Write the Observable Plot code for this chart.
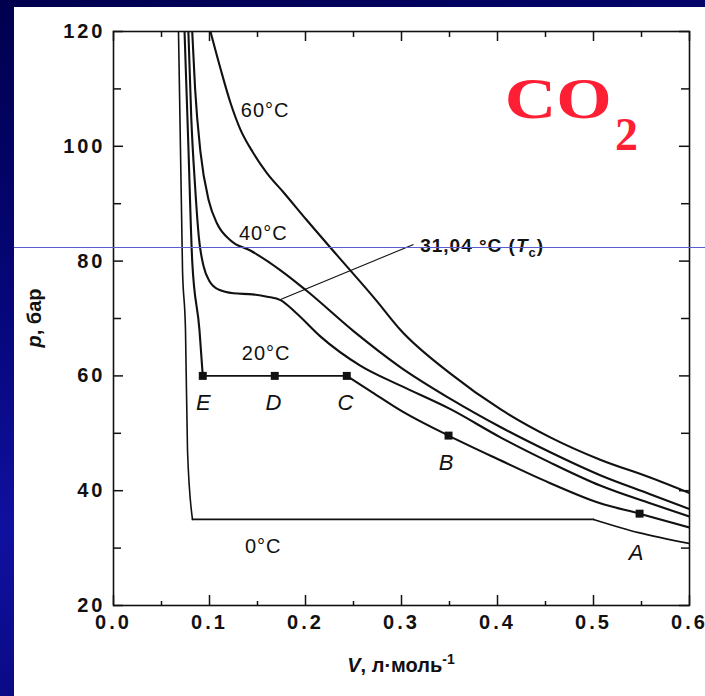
<!DOCTYPE html>
<html><head><meta charset="utf-8">
<script src="https://cdn.jsdelivr.net/npm/d3@7"></script>
<script src="https://cdn.jsdelivr.net/npm/@observablehq/plot@0.6"></script>
<style>
html,body{margin:0;padding:0;}
body{width:705px;height:696px;position:relative;overflow:hidden;background:linear-gradient(165deg,#00004e 0%,#06067a 35%,#1010a0 60%,#04046a 100%);}
#panel{position:absolute;left:14px;top:7px;right:0;bottom:0;background:#fff;}
#chart{position:absolute;left:0;top:0;}
#hline{position:absolute;left:14px;right:0;top:247px;height:1px;background:#5c5cd0;}
</style></head><body>
<div id="panel"></div><div id="chart"></div><div id="hline"></div>
<script>
// ---- axis ticks ----
const xMajor = [0, 0.1, 0.2, 0.3, 0.4, 0.5, 0.6];
const xMinor = [0.05, 0.15, 0.25, 0.35, 0.45, 0.55];
const yMajor = [20, 40, 60, 80, 100, 120];
const yMinor = [30, 50, 70, 90, 110];

// ---- isotherms (V in l/mol, p in bar) ----
const t0LiqV = [0.0677, 0.0719, 0.0750, 0.0771, 0.0823];
const t0LiqP = [120, 78.4, 67.9, 47.0, 35];
const t0PlatV = [0.0823, 0.5];
const t0PlatP = [35, 35];
const t0VapV = [0.5, 0.547, 0.6];
const t0VapP = [35, 32.7, 30.8];

const t20LiqV = [0.074, 0.078, 0.082, 0.0896, 0.093];
const t20LiqP = [120, 100, 80, 67.9, 60];
const t20PlatV = [0.093, 0.243];
const t20PlatP = [60, 60];
const t20VapV = [0.243, 0.27, 0.299, 0.349, 0.403, 0.455, 0.507, 0.548, 0.6];
const t20VapP = [60, 57.1, 54.0, 49.6, 45.3, 41.3, 37.8, 36.0, 33.6];

const t31V = [0.078, 0.081, 0.085, 0.089, 0.094, 0.100, 0.110, 0.125, 0.145, 0.160, 0.174, 0.190, 0.216, 0.257, 0.299, 0.351, 0.403, 0.455, 0.507, 0.559, 0.6];
const t31P = [120, 105, 93, 84, 79, 76.5, 75, 74.4, 74.2, 73.8, 73.2, 71, 66.8, 61.8, 58.3, 54.2, 49.3, 44.9, 40.9, 37.8, 35.5];

const t40V = [0.082, 0.085, 0.0906, 0.0993, 0.108, 0.122, 0.143, 0.174, 0.2, 0.25, 0.299, 0.351, 0.403, 0.455, 0.507, 0.559, 0.6];
const t40P = [120, 110, 99, 90.5, 86.5, 83.6, 81.8, 78.4, 75, 67.8, 61.5, 56.0, 51.1, 46.7, 42.7, 39.4, 36.8];

const t60V = [0.101, 0.1115, 0.122, 0.132, 0.145, 0.160, 0.177, 0.201, 0.233, 0.273, 0.299, 0.351, 0.403, 0.455, 0.507, 0.559, 0.6];
const t60P = [120, 113.5, 107.5, 103.0, 99.0, 95.3, 92.0, 87.2, 81.0, 73.3, 68.0, 60.4, 54.2, 49.3, 45.4, 42.3, 39.6];

// ---- marked states ----
const ptName = ["E", "D", "C", "B", "A"];
const ptV = [0.093, 0.168, 0.243, 0.349, 0.548];
const ptP = [60, 60, 60, 49.6, 36.0];
const ptLabV = [0.094, 0.167, 0.242, 0.347, 0.545];
const ptLabP = [55.2, 55.2, 55.2, 44.9, 29.1];

// ---- isotherm labels ----
const isoLab = ["60°C", "40°C", "20°C", "0°C"];
const isoLabV = [0.158, 0.156, 0.159, 0.156];
const isoLabP = [106.2, 84.8, 63.9, 30.3];

// critical isotherm annotation
const critLeaderV = [0.174, 0.3125];
const critLeaderP = [73.3, 82.9];
const critLabV = 0.320, critLabP = 82.7;

function seg(name, V, P) { return V.map((v, i) => ({seg: name, V: v, p: P[i]})); }
const thick = [
  ...seg("20l", t20LiqV, t20LiqP), ...seg("20v", t20VapV, t20VapP),
  ...seg("31", t31V, t31P), ...seg("40", t40V, t40P), ...seg("60", t60V, t60P)
];
const thin = [...seg("0l", t0LiqV, t0LiqP), ...seg("0v", t0VapV, t0VapP)];
const plateaus = [...seg("0p", t0PlatV, t0PlatP), ...seg("20p", t20PlatV, t20PlatP)];
const pts = ptName.map((n, i) => ({n, V: ptV[i], p: ptP[i], lV: ptLabV[i], lP: ptLabP[i]}));
const isoRows = isoLab.map((t, i) => ({t, V: isoLabV[i], p: isoLabP[i]}));
const leader = [{V1: critLeaderV[0], p1: critLeaderP[0], V2: critLeaderV[1], p2: critLeaderP[1]}];

const W = 705, H = 696, mL = 113, mR = 16, mT = 31, mB = 91;
const pw = W - mL - mR, ph = H - mT - mB;
const FONT = "Liberation Sans, Arial, Helvetica, sans-serif";
const ink = "#111";

const svg = Plot.plot({
  width: W, height: H,
  marginLeft: mL, marginRight: mR, marginTop: mT, marginBottom: mB,
  style: {background: "transparent", fontFamily: FONT, overflow: "visible"},
  x: {domain: [0, 0.6], label: null},
  y: {domain: [20, 120], label: null},
  marks: [
    Plot.frame({stroke: ink, strokeWidth: 1.6}),
    Plot.tickX(xMajor, {x: d => d, stroke: ink, strokeWidth: 1.5, insetTop: ph - 10}),
    Plot.tickX(xMajor, {x: d => d, stroke: ink, strokeWidth: 1.5, insetBottom: ph - 10}),
    Plot.tickX(xMinor, {x: d => d, stroke: ink, strokeWidth: 1.5, insetTop: ph - 4}),
    Plot.tickX(xMinor, {x: d => d, stroke: ink, strokeWidth: 1.5, insetBottom: ph - 6}),
    Plot.tickY(yMajor, {y: d => d, stroke: ink, strokeWidth: 1.5, insetRight: pw - 10}),
    Plot.tickY(yMajor, {y: d => d, stroke: ink, strokeWidth: 1.5, insetLeft: pw - 10}),
    Plot.tickY(yMinor, {y: d => d, stroke: ink, strokeWidth: 1.5, insetRight: pw - 8}),
    Plot.tickY(yMinor, {y: d => d, stroke: ink, strokeWidth: 1.5, insetLeft: pw - 8}),
    Plot.axisX({ticks: xMajor, tickSize: 0, tickPadding: 9, tickFormat: d3.format(".1f"), fontSize: 20, fontWeight: "bold", fill: ink}),
    Plot.axisY({ticks: yMajor, tickSize: 0, tickPadding: 8, tickFormat: d3.format("d"), fontSize: 20, fontWeight: "bold", fill: ink}),
    Plot.line(thin, {x: "V", y: "p", z: "seg", curve: "monotone-x", stroke: ink, strokeWidth: 1.6, clip: true}),
    Plot.line(plateaus, {x: "V", y: "p", z: "seg", stroke: ink, strokeWidth: 1.8, clip: true}),
    Plot.line(thick, {x: "V", y: "p", z: "seg", curve: "monotone-x", stroke: ink, strokeWidth: 2.1, clip: true}),
    Plot.link(leader, {x1: "V1", y1: "p1", x2: "V2", y2: "p2", stroke: ink, strokeWidth: 1.1}),
    Plot.dot(pts, {x: "V", y: "p", symbol: "square", r: 4.5, fill: ink, stroke: "none"}),
    Plot.text(pts, {x: "lV", y: "lP", text: "n", fontSize: 22, fontStyle: "italic", fill: ink}),
    Plot.text(isoRows, {x: "V", y: "p", text: "t", fontSize: 20, fill: ink})
  ]
});

const sx = svg.scale("x"), sy = svg.scale("y");
const S = d3.select(svg);
S.selectAll('g[aria-label="x-axis tick label"] text, g[aria-label="y-axis tick label"] text').style("letter-spacing", "3px");
S.selectAll('g[aria-label="text"] text').style("letter-spacing", "1px");

// critical isotherm label
const ct = S.append("text").attr("x", sx.apply(critLabV)).attr("y", sy.apply(critLabP)).attr("dy", "0.35em")
  .attr("text-anchor", "start")
  .attr("font-family", FONT).attr("font-size", 19).attr("font-weight", "bold").attr("fill", ink).style("letter-spacing", "1px");
ct.append("tspan").text("31,04 °C (");
ct.append("tspan").attr("font-style", "italic").text("T");
ct.append("tspan").attr("font-size", 13).attr("dy", 5).text("c");
ct.append("tspan").attr("dy", -5).text(")");

// CO2 label
const co = S.append("g").attr("fill", "#ff1f35").attr("font-family", "Liberation Serif, Times New Roman, serif")
  .attr("font-weight", "bold").attr("text-anchor", "start");
co.append("text").attr("x", sx.apply(0.408)).attr("y", sy.apply(104.8)).attr("font-size", 57)
  .attr("textLength", 107).attr("lengthAdjust", "spacingAndGlyphs").text("CO");
co.append("text").attr("x", sx.apply(0.523)).attr("y", sy.apply(99.3)).attr("font-size", 47)
  .attr("textLength", 23).attr("lengthAdjust", "spacingAndGlyphs").text("2");

// axis titles
const xt = S.append("text").attr("x", mL + pw / 2).attr("y", 672).attr("text-anchor", "middle")
  .attr("font-family", FONT).attr("font-size", 20).attr("font-weight", "bold").attr("fill", ink);
xt.append("tspan").attr("font-style", "italic").text("V");
xt.append("tspan").text(", л·моль");
xt.append("tspan").attr("font-size", 14).attr("dy", -8).text("-1");

const yt = S.append("text").attr("transform", "translate(41,318) rotate(-90)").attr("text-anchor", "middle")
  .attr("font-family", FONT).attr("font-size", 20).attr("font-weight", "bold").attr("fill", ink);
yt.append("tspan").attr("font-style", "italic").text("p");
yt.append("tspan").text(", бар");

document.getElementById("chart").appendChild(svg);
</script></body></html>
